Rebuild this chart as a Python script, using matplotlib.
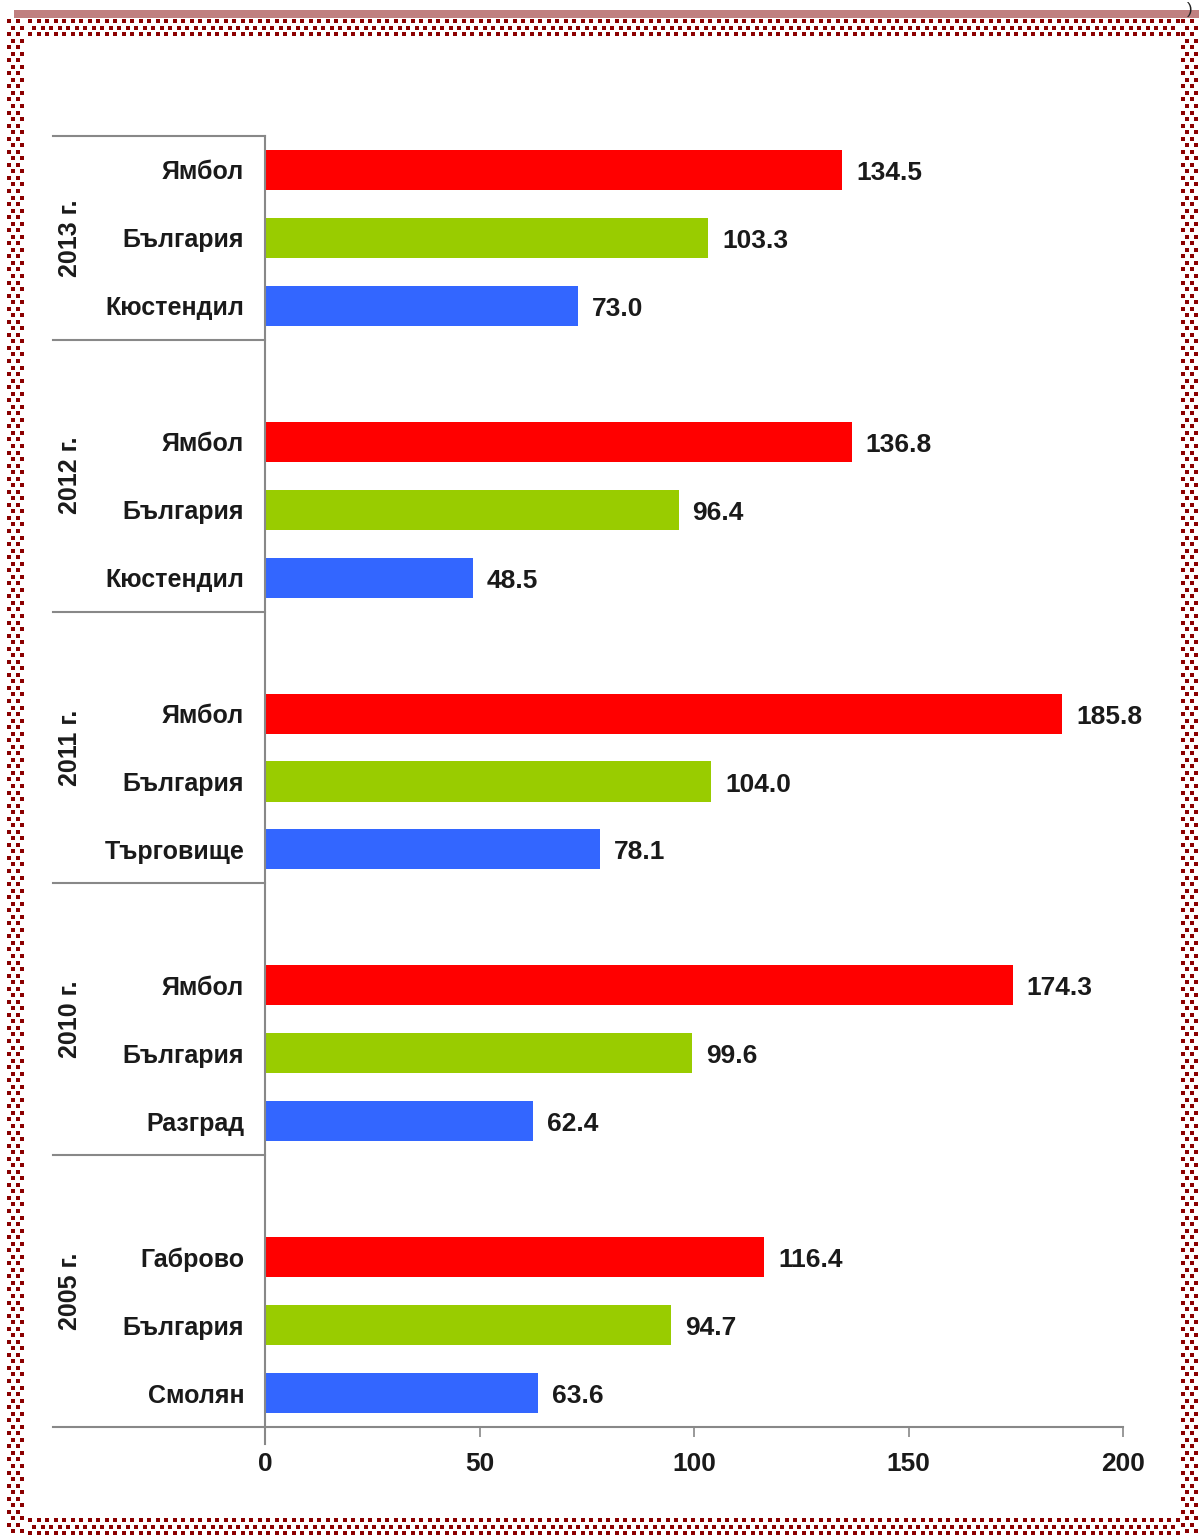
import matplotlib
matplotlib.use("Agg")
import matplotlib.pyplot as plt
import matplotlib.transforms as mtransforms
import numpy as np

# ---- data ----
years = ["2013 г.", "2012 г.", "2011 г.", "2010 г.", "2005 г."]
top_names = ["Ямбол", "Ямбол", "Ямбол", "Ямбол", "Габрово"]
mid_names = ["България", "България", "България", "България", "България"]
low_names = ["Кюстендил", "Кюстендил", "Търговище", "Разград", "Смолян"]
top_vals = [134.5, 136.8, 185.8, 174.3, 116.4]
mid_vals = [103.3, 96.4, 104.0, 99.6, 94.7]
low_vals = [73.0, 48.5, 78.1, 62.4, 63.6]
x_ticks = [0, 50, 100, 150, 200]

colors = ["#FF0000", "#99CC00", "#3366FF"]

W, H = 1199, 1536
fig = plt.figure(figsize=(W / 100, H / 100), dpi=100)
plt.rcParams['font.family'] = ['Liberation Sans', 'DejaVu Sans']

# ---- decorative frame ----
deco = fig.add_axes([0, 0, 1, 1])
deco.set_xlim(0, W)
deco.set_ylim(H, 0)
deco.axis("off")
deco.add_patch(plt.Rectangle((14, 10), W - 14, 8, color="#C08080", lw=0))
pts = []
step = 8.5
for band in [(6, 18, 27, 1536), (27, 18, 1180, 38), (1180, 18, 1199, 1536), (27, 1517, 1180, 1536)]:
    x0, y0, x1, y1 = band
    for j, yy in enumerate(np.arange(y0 + 3, y1 - 1, step / 1.3)):
        off = (j % 2) * step / 2
        for xx in np.arange(x0 + 3 + off, x1 - 1, step):
            pts.append((xx, yy))
pts = np.array(pts)
deco.scatter(pts[:, 0], pts[:, 1], marker="s", s=12, color="#8B0000", lw=0)
deco.text(1190, 2, ")", fontsize=12, ha="center", va="top", color="#222")

# ---- main chart ----
L, R, T, B = 265, 1123, 136, 1427
ax = fig.add_axes([L / W, 1 - B / H, (R - L) / W, (B - T) / H])

positions, values, labels, cols = [], [], [], []
for g in range(len(years)):
    base = g * 4
    for k, (nm, v) in enumerate([(top_names[g], top_vals[g]), (mid_names[g], mid_vals[g]), (low_names[g], low_vals[g])]):
        positions.append(base + k)
        values.append(v)
        labels.append(nm)
        cols.append(colors[k])

ax.barh(positions, values, height=0.59, color=cols)
for p, v in zip(positions, values):
    ax.annotate(f"{v:.1f}", (v, p), xytext=(14, -3), textcoords="offset pixels",
                va="center", ha="left", fontsize=19, fontweight="bold", color="#1a1a1a")

ax.set_ylim(18.5, -0.5)
ax.set_xlim(0, 200)
ax.set_yticks(positions)
ax.set_yticklabels(labels, fontsize=18, fontweight="bold", color="#1a1a1a")
ax.tick_params(axis="y", length=0, pad=15)
ax.set_xticks(x_ticks)
ax.set_xticklabels([str(t) for t in x_ticks], fontsize=19, fontweight="bold", color="#1a1a1a")
ax.tick_params(axis="x", length=7, width=1.2, color="#888", pad=11, direction="out")
for s in ["top", "right"]:
    ax.spines[s].set_visible(False)
ax.spines["left"].set_color("#888")
ax.spines["bottom"].set_color("#888")
ax.spines["left"].set_linewidth(1.5)
ax.spines["bottom"].set_linewidth(1.5)
ax.spines["left"].set_bounds(18.75, -0.5)

trans = mtransforms.blended_transform_factory(ax.transAxes, ax.transData)
xl = (53 - L) / (R - L)
for sep in [-0.5, 2.5, 6.5, 10.5, 14.5]:
    ax.plot([xl, 0], [sep, sep], transform=trans, color="#888", lw=1.5, clip_on=False)
ax.plot([xl, 0], [18.5, 18.5], transform=trans, color="#888", lw=1.5, clip_on=False)
xyr = (70 - L) / (R - L)
for g, yr in enumerate(years):
    lo = -0.5 if g == 0 else g * 4 - 1.5
    hi = g * 4 + 2.5 if g < 4 else 18.5
    ax.text(xyr, (lo + hi) / 2, yr, transform=trans, rotation=90, ha="center", va="center",
            fontsize=18, fontweight="bold", color="#1a1a1a")

fig.savefig("out.png", dpi=100)
